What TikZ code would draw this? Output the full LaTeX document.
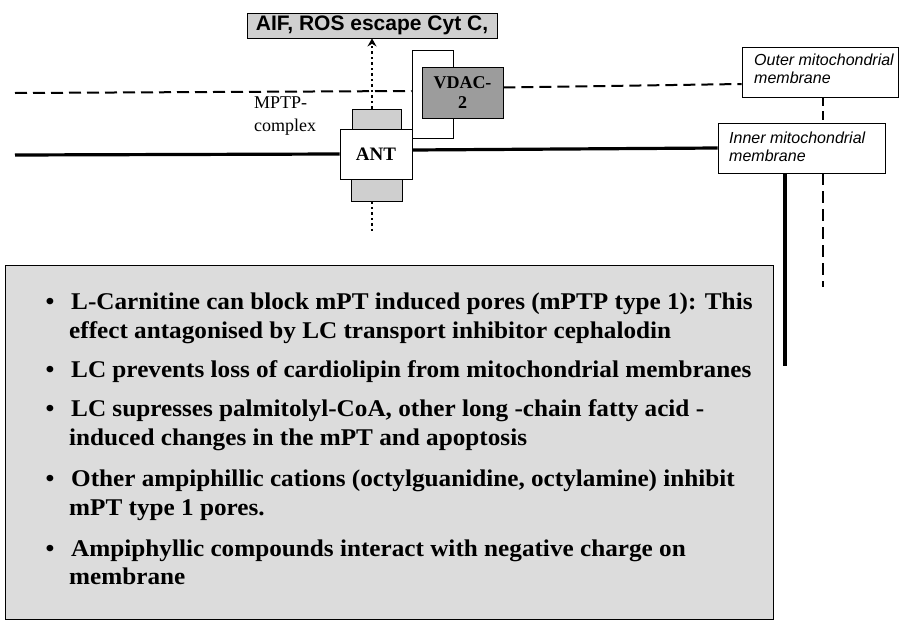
\documentclass[tikz,border=0pt]{standalone}
\usepackage{fontspec}
\setmainfont{Liberation Serif}
\newfontfamily\bodyfont[FakeStretch=1.05]{Liberation Serif}
\newfontfamily\labsans{Liberation Sans}
\usetikzlibrary{arrows.meta}
\definecolor{aiffill}{HTML}{D0D0D0}
\definecolor{bigfill}{HTML}{DCDCDC}
\definecolor{vdacfill}{HTML}{9C9C9C}
\definecolor{sidefill}{HTML}{CFCFCF}
\tikzset{
  box/.style={draw=black, line width=0.8pt, inner sep=0pt, minimum width=#1},
  boxlabel/.style={font=\labsans\itshape\fontsize{16}{18.5}\selectfont, align=left, text=black},
  bodyline/.style={anchor=base west, inner sep=0pt, font=\bodyfont\bfseries\fontsize{24}{28}\selectfont},
  bulletmark/.style={anchor=base, inner sep=0pt, font=\bodyfont\bfseries\fontsize{24}{28}\selectfont},
  outermem/.style={line width=2pt, dash pattern=on 12pt off 6pt},
  innermem/.style={line width=3.2pt},
  dottedpath/.style={line width=2.6pt, dash pattern=on 2.5pt off 3pt},
}
\begin{document}
\begin{tikzpicture}[x=1pt,y=-1pt]
\useasboundingbox (0,0) rectangle (901,621);
% big text box
\node[box=768pt, fill=bigfill, minimum height=354pt, line width=0.6pt] (bigbox) at (389,442) {};
% bullets and lines
\foreach \n/\y in {1/309,2/377,3/416,4/486,5/556}{
  \node[bulletmark] (b\n) at (50,\y) {\textbullet};
}
\node[bodyline] (t1) at (71,309) {L-Carnitine can block mPT induced pores (mPTP type 1): This};
\node[bodyline] (t2) at (69,338) {effect antagonised by LC transport inhibitor cephalodin};
\node[bodyline] (t3) at (71,377) {LC prevents loss of cardiolipin from mitochondrial membranes};
\node[bodyline] (t4) at (71,416) {LC supresses palmitolyl-CoA, other long -chain fatty acid -};
\node[bodyline] (t5) at (69,445) {induced changes in the mPT and apoptosis};
\node[bodyline] (t6) at (71,486) {Other ampiphillic cations (octylguanidine, octylamine) inhibit};
\node[bodyline] (t7) at (69,515) {mPT type 1 pores.};
\node[bodyline] (t8) at (71,556) {Ampiphyllic compounds interact with negative charge on};
\node[bodyline] (t9) at (69,584) {membrane};

% top box
\node[box=250pt, minimum height=25pt, fill=aiffill, font=\labsans\bfseries\fontsize{21}{24}\selectfont] (aif) at (372,25.5) {AIF, ROS escape Cyt C,};

% VDAC frame and box
\node[box=41pt, minimum height=88pt, fill=white] (vframe) at (432.5,94) {};
\node[box=81pt, minimum height=51pt, fill=vdacfill, align=center, font=\bfseries\fontsize{18}{20}\selectfont] (vdac) at (462.5,92.5) {VDAC-\\2};

% ANT with side parts
\node[box=49pt, minimum height=20pt, fill=sidefill] (up) at (376.5,119) {};
\node[box=51pt, minimum height=22pt, fill=sidefill] (down) at (376.5,190) {};
\node[box=72pt, minimum height=50pt, fill=white, font=\bfseries\fontsize{19}{22}\selectfont] (ant) at (376,154) {ANT};

% MPTP label
\node[anchor=west, inner sep=0pt, align=left, font=\fontsize{18}{23}\selectfont] (mptp) at (254,116) {MPTP-\\complex};

% membrane label boxes
\node[box=156pt, minimum height=50pt, fill=white] (outer) at (820,72) {};
\node[boxlabel, anchor=west, inner sep=0pt] (outertxt) at (754,69) {Outer mitochondrial\\membrane};
\node[box=167pt, minimum height=50pt, fill=white] (inner) at (801.5,148) {};
\node[boxlabel, anchor=west, inner sep=0pt] (innertxt) at (729,147) {Inner mitochondrial\\membrane};

% membranes
\coordinate (oL) at (15,93);
\coordinate (iL) at (15,155);
\draw[outermem] (oL) -- ([yshift=3pt]vframe.west);
\draw[outermem] ([yshift=5pt]vdac.east) -- ([yshift=-12pt]outer.west);
\draw[innermem] (iL) -- (ant.west);
\draw[innermem] ([yshift=4pt]ant.east) -- (inner.west);

% vertical connectors on the right
\coordinate (vx) at (823,0);
\coordinate (vend) at (823,287);
\coordinate (tend) at (785,366);
\draw[line width=2pt, dash pattern=on 9pt off 5pt] (outer.south -| vx) -- (inner.north -| vx);
\draw[line width=2pt, dash pattern=on 12pt off 6pt] (inner.south -| vx) -- (vend);
\draw[line width=3.5pt] (inner.south -| tend) -- (tend);

% dotted paths
\coordinate (dend) at (372,233);
\draw[dottedpath, -{Stealth[length=8pt,width=9pt]}] (aif.south |- up.north) -- (aif.south);
\draw[dottedpath] (aif.south |- down.south) -- (dend);
\end{tikzpicture}
\end{document}
